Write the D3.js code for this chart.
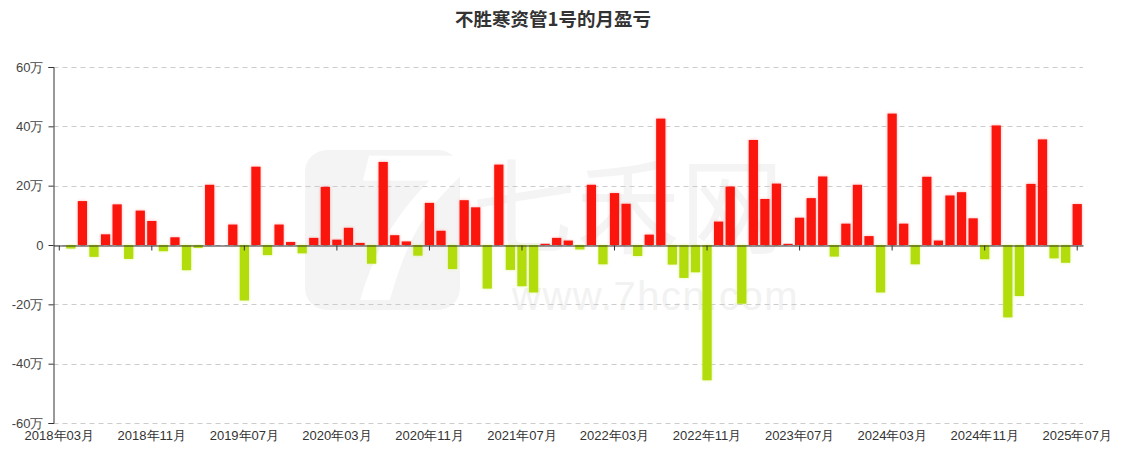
<!DOCTYPE html>
<html>
<head>
<meta charset="utf-8">
<script src="https://cdn.jsdelivr.net/npm/d3@7"></script>
<style>
  html, body { margin: 0; padding: 0; background: #fff; }
  svg { display: block; font-family: "Microsoft YaHei", "Noto Sans CJK SC", sans-serif; }
</style>
</head>
<body>
<svg id="chart" width="1122" height="455"></svg>
<script>
// ---- data ----
const titleText = "不胜寒资管1号的月盈亏";
const months = [];
for (let yy = 2018, mm = 3; yy < 2025 || (yy === 2025 && mm <= 7); ) {
  months.push(yy + "年" + String(mm).padStart(2, "0") + "月");
  mm++; if (mm > 12) { mm = 1; yy++; }
}
// monthly profit/loss, unit: 万
const values = [
  0, -1.2, 14.8, -4.0, 3.6, 13.7, -4.7, 11.6, 8.1, -2.1,
  2.6, -8.5, -1.0, 20.3, 0, 6.9, -18.7, 26.4, -3.4, 6.9,
  1.0, -2.8, 2.4, 19.6, 1.8, 5.8, 0.7, -6.3, 28.0, 3.3,
  1.2, -3.6, 14.2, 4.8, -8.1, 15.1, 12.7, -14.7, 27.1, -8.4,
  -13.9, -16.0, 0.4, 2.4, 1.5, -1.5, 20.3, -6.5, 17.5, 13.9,
  -3.7, 3.5, 42.6, -6.6, -11.1, -9.2, -45.6, 7.9, 19.7, -19.8,
  35.4, 15.5, 20.7, 0.4, 9.2, 15.8, 23.1, -3.9, 7.2, 20.3,
  3.0, -16.0, 44.3, 7.2, -6.5, 23.0, 1.5, 16.7, 17.8, 9.0,
  -4.8, 40.3, -24.4, -17.2, 20.6, 35.6, -4.5, -6.0, 13.8
];
const yTicks = [-60, -40, -20, 0, 20, 40, 60];
const labelEvery = 8;

// ---- layout ----
const svg = d3.select("#chart");
const plotL = 53.5, plotR = 1083, plotT = 67, plotB = 423;
const x = d3.scaleBand().domain(months).range([plotL, plotR]).padding(0);
const y = d3.scaleLinear().domain([-60, 60]).range([plotB, plotT]);
const barW = x.bandwidth() * 0.8;

// shadow filters
const defs = svg.append("defs");
function glow(id, color) {
  const f = defs.append("filter").attr("id", id).attr("x", "-50%").attr("y", "-20%").attr("width", "200%").attr("height", "140%");
  f.append("feGaussianBlur").attr("in", "SourceAlpha").attr("stdDeviation", 1.6).attr("result", "b");
  f.append("feFlood").attr("flood-color", color).attr("result", "c");
  f.append("feComposite").attr("in", "c").attr("in2", "b").attr("operator", "in").attr("result", "s");
  const mg = f.append("feMerge");
  mg.append("feMergeNode").attr("in", "s");
  mg.append("feMergeNode").attr("in", "SourceGraphic");
}
glow("gRed", "rgba(255,80,80,0.45)");
glow("gGreen", "rgba(200,240,60,0.55)");

// watermark
const wm = svg.append("g").attr("pointer-events", "none");
wm.append("rect").attr("x", 305).attr("y", 150).attr("width", 155).attr("height", 160).attr("rx", 22).attr("fill", "#f4f4f4");
wm.append("text").attr("x", 382).attr("y", 300).attr("text-anchor", "middle")
  .attr("font-size", 200).attr("font-weight", "bold").attr("font-style", "italic").attr("fill", "#fff").text("7");
wm.append("text").attr("x", 472).attr("y", 246).attr("font-size", 104).attr("fill", "#f4f4f4").text("七禾网");
wm.append("text").attr("x", 512).attr("y", 310).attr("font-size", 40).attr("fill", "#f2f2f2").attr("font-family", "Arial, Liberation Sans, sans-serif").attr("letter-spacing", 1.5).text("www.7hcn.com");

// title
svg.append("text").attr("x", 553).attr("y", 26).attr("text-anchor", "middle")
  .attr("font-size", 18.5).attr("font-weight", "bold").attr("fill", "#333").text(titleText);

// grid lines
svg.append("g").selectAll("line").data(yTicks).join("line")
  .attr("x1", plotL).attr("x2", plotR)
  .attr("y1", d => Math.round(y(d)) + 0.5).attr("y2", d => Math.round(y(d)) + 0.5)
  .attr("stroke", "#ccc").attr("stroke-dasharray", "5,4");

// bars
svg.append("g").selectAll("rect").data(values.map((v, i) => ({ m: months[i], v })).filter(d => d.v !== 0)).join("rect")
  .attr("x", d => x(d.m) + (x.bandwidth() - barW) / 2)
  .attr("width", barW)
  .attr("y", d => Math.min(y(d.v), y(0)))
  .attr("height", d => Math.abs(y(d.v) - y(0)))
  .attr("fill", d => d.v > 0 ? "#fa1207" : "#b3dc0e")
  .attr("filter", d => d.v > 0 ? "url(#gRed)" : "url(#gGreen)");

// y axis
const yAxis = svg.append("g").attr("transform", `translate(${plotL},0)`)
  .call(d3.axisLeft(y).tickValues(yTicks).tickSize(5).tickPadding(5)
    .tickFormat(d => d === 0 ? "0" : (d < 0 ? "-" + Math.abs(d) : d) + "万"));
yAxis.select(".domain").attr("stroke", "#333");
yAxis.selectAll(".tick line").attr("stroke", "#333");
yAxis.selectAll("text").attr("font-size", 13).attr("fill", "#444").attr("font-family", null);

// x axis line at zero with ticks
const labelTicks = months.filter((m, i) => i % labelEvery === 0);
const xAxis0 = svg.append("g").attr("transform", `translate(0,${Math.round(y(0)) + 0.5})`)
  .call(d3.axisBottom(x).tickValues(labelTicks).tickSize(5).tickSizeOuter(0).tickFormat(""));
xAxis0.select(".domain").attr("stroke", "#333");
xAxis0.selectAll(".tick line").attr("stroke", "#333");

// x labels at bottom
const xLab = svg.append("g").attr("transform", `translate(0,${plotB})`)
  .call(d3.axisBottom(x).tickValues(labelTicks).tickSize(0).tickPadding(8));
xLab.select(".domain").remove();
xLab.selectAll("text").attr("font-size", 13).attr("fill", "#333").attr("font-family", null);
</script>
</body>
</html>
